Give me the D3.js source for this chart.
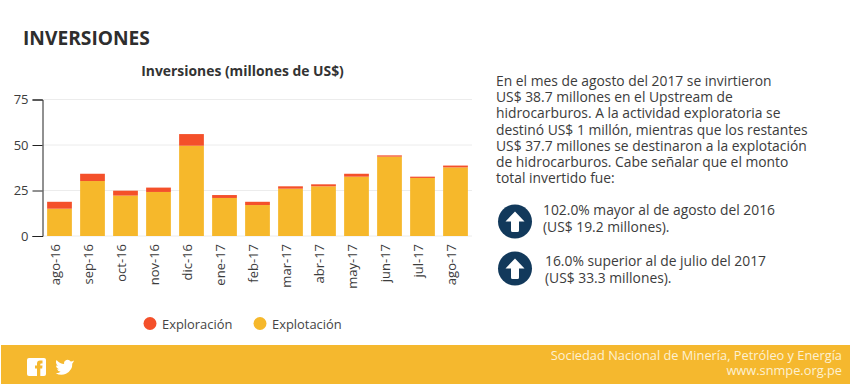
<!DOCTYPE html>
<html>
<head>
<meta charset="utf-8">
<script src="https://cdn.jsdelivr.net/npm/d3@7"></script>
<style>
  html, body { margin: 0; padding: 0; background: #fff; }
  svg { display: block; font-family: "Open Sans", sans-serif; }
</style>
</head>
<body>
<div id="chart"></div>
<script>
// ----- Data -----
const months      = ["ago-16","sep-16","oct-16","nov-16","dic-16","ene-17","feb-17","mar-17","abr-17","may-17","jun-17","jul-17","ago-17"];
const explotacion = [15.0, 30.2, 22.2, 24.2, 49.6, 20.9, 17.0, 26.0, 27.3, 32.6, 43.6, 31.9, 37.7];
const exploracion = [3.8, 4.0, 2.7, 2.4, 6.4, 1.6, 1.8, 1.3, 1.1, 1.6, 0.7, 0.7, 1.0];
const yTicks      = [0, 25, 50, 75];

const introLines = [
  "En el mes de agosto del 2017 se invirtieron",
  "US$ 38.7 millones en el Upstream de",
  "hidrocarburos. A la actividad exploratoria se",
  "destinó US$ 1 millón, mientras que los restantes",
  "US$ 37.7 millones se destinaron a la explotación",
  "de hidrocarburos. Cabe señalar que el monto",
  "total invertido fue:"
];
const note1Lines = ["102.0% mayor al de agosto del 2016", "(US$ 19.2 millones)."];
const note2Lines = ["16.0% superior al de julio del 2017", "(US$ 33.3 millones)."];

const COLOR_EXPLOTACION = "#f6b82b";
const COLOR_EXPLORACION = "#f4502a";
const COLOR_TEXT = "#3c3c3c";
const COLOR_NAVY = "#12395b";

const svg = d3.select("#chart").append("svg")
  .attr("width", 850)
  .attr("height", 384);

// heading
svg.append("text")
  .attr("x", 23).attr("y", 44.5)
  .attr("font-size", 19.2).attr("font-weight", 700)
  .attr("fill", "#2e2e2e")
  .text("INVERSIONES");

svg.append("text")
  .attr("x", 242.5).attr("y", 76)
  .attr("text-anchor", "middle")
  .attr("font-size", 13.9).attr("font-weight", 700)
  .attr("fill", "#333")
  .text("Inversiones (millones de US$)");

// ----- Scales -----
const x = d3.scaleBand().domain(months).range([43, 472]).paddingInner(0.25).paddingOuter(0.125);
const y = d3.scaleLinear().domain([0, 75]).range([236, 99.5]);

// gridlines
svg.append("g").selectAll("line")
  .data(yTicks)
  .enter().append("line")
  .attr("x1", 43).attr("x2", 472)
  .attr("y1", d => y(d)).attr("y2", d => y(d))
  .attr("stroke", "#ececec").attr("stroke-width", 1);

// stacked bars
svg.append("g").selectAll("rect")
  .data(months)
  .enter().append("rect")
  .attr("x", d => x(d))
  .attr("width", x.bandwidth())
  .attr("y", (d, i) => y(explotacion[i]))
  .attr("height", (d, i) => y(0) - y(explotacion[i]))
  .attr("fill", COLOR_EXPLOTACION);

svg.append("g").selectAll("rect")
  .data(months)
  .enter().append("rect")
  .attr("x", d => x(d))
  .attr("width", x.bandwidth())
  .attr("y", (d, i) => y(explotacion[i] + exploracion[i]))
  .attr("height", (d, i) => y(explotacion[i]) - y(explotacion[i] + exploracion[i]))
  .attr("fill", COLOR_EXPLORACION);

// y axis
const yAxis = svg.append("g")
  .attr("transform", "translate(42.5,0)")
  .call(d3.axisLeft(y).tickValues(yTicks).tickSize(10).tickPadding(4));
yAxis.select(".domain").attr("stroke", "#222").attr("stroke-width", 1);
yAxis.selectAll(".tick line").attr("stroke", "#222");
yAxis.selectAll("text")
  .attr("font-family", "\"Open Sans\", sans-serif")
  .attr("font-size", 13).attr("fill", COLOR_TEXT);

// x axis labels
const xAxis = svg.append("g")
  .attr("transform", "translate(0,236)")
  .call(d3.axisBottom(x).tickSize(0).tickPadding(7));
xAxis.select(".domain").remove();
xAxis.selectAll("text")
  .attr("font-family", "\"Open Sans\", sans-serif")
  .attr("font-size", 13).attr("fill", COLOR_TEXT)
  .attr("text-anchor", "end")
  .attr("dx", 0).attr("dy", 0)
  .attr("transform", "translate(0,8) rotate(-90)")
  .attr("x", 0).attr("y", 0);

// legend
const legendItems = [
  { label: "Exploración", color: COLOR_EXPLORACION, cx: 150, tx: 162 },
  { label: "Explotación", color: COLOR_EXPLOTACION, cx: 260, tx: 272 }
];
const legend = svg.append("g").selectAll("g").data(legendItems).enter().append("g");
legend.append("circle")
  .attr("cx", d => d.cx).attr("cy", 323.5).attr("r", 6.5)
  .attr("fill", d => d.color);
legend.append("text")
  .attr("x", d => d.tx).attr("y", 329)
  .attr("font-size", 12.9).attr("fill", "#444")
  .text(d => d.label);

// right text block
function textBlock(lines, tx, ty, lh, size) {
  svg.append("g").selectAll("text")
    .data(lines)
    .enter().append("text")
    .attr("x", tx)
    .attr("y", (d, i) => ty + i * lh)
    .attr("font-size", size)
    .attr("fill", COLOR_TEXT)
    .text(d => d);
}
textBlock(introLines, 496, 86, 16.2, 13.85);
textBlock(note1Lines, 543, 215, 16.5, 13.85);
textBlock(note2Lines, 545, 266, 16.5, 13.85);

// up arrow icons
[[515, 221.5], [515, 268.5]].forEach(p => {
  const icon = svg.append("g").attr("transform", `translate(${p[0]},${p[1]})`);
  icon.append("circle").attr("r", 17).attr("fill", COLOR_NAVY);
  icon.append("path")
    .attr("d", "M0,-10 L9.5,0 L4,0 L4,9 Q4,10.5 2.5,10.5 L-2.5,10.5 Q-4,10.5 -4,9 L-4,0 L-9.5,0 Z")
    .attr("fill", "#fff");
});

// ----- Footer -----
svg.append("rect")
  .attr("x", 1).attr("y", 345).attr("width", 849).attr("height", 39)
  .attr("fill", "#f5b82e");

// facebook box
svg.append("rect")
  .attr("x", 27).attr("y", 358).attr("width", 19).attr("height", 18).attr("rx", 2)
  .attr("fill", "#fff");
svg.append("path")
  .attr("d", "M37,376 L37,368.5 L35,368.5 L35,365.5 L37,365.5 L37,363.5 Q37,360.5 40,360.5 L42.5,360.5 L42.5,363.5 L41,363.5 Q40.3,363.5 40.3,364.3 L40.3,365.5 L42.5,365.5 L42.2,368.5 L40.3,368.5 L40.3,376 Z")
  .attr("fill", "#f5b82e");

// twitter bird, rough shape
svg.append("path")
  .attr("d", "M74,360.5 Q72,361.6 70.8,361.4 Q69,359.2 66.4,360 Q63.6,361 64.1,364 Q60,364 56.5,360 Q55,363.2 57.8,365.8 Q56.6,365.8 56,365.3 Q56.1,368.3 59,369.2 Q58,369.5 57,369.2 Q57.9,371.5 60.6,371.8 Q58.4,373.6 55.6,373.2 Q60.8,376.2 66,373.8 Q72.6,370.4 72.3,363.6 Q73.4,362.6 74,360.5 Z")
  .attr("fill", "#fff");

svg.append("text")
  .attr("x", 842).attr("y", 359.5)
  .attr("text-anchor", "end")
  .attr("font-size", 12.8).attr("fill", "#fdf1d2")
  .text("Sociedad Nacional de Minería, Petróleo y Energía");
svg.append("text")
  .attr("x", 842).attr("y", 375)
  .attr("text-anchor", "end")
  .attr("font-size", 12.8).attr("fill", "#fdf1d2")
  .text("www.snmpe.org.pe");
</script>
</body>
</html>
